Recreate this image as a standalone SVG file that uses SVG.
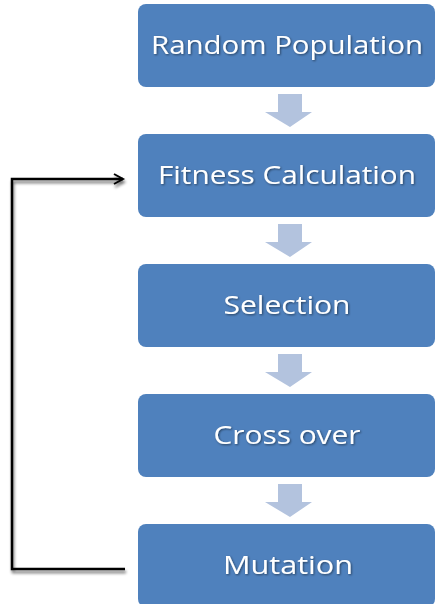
<svg xmlns="http://www.w3.org/2000/svg" width="435" height="604" viewBox="0 0 435 604">
<defs>
<filter id="sh" x="-10%" y="-10%" width="130%" height="130%"><feGaussianBlur in="SourceAlpha" stdDeviation="1.5"/><feOffset dx="1" dy="3"/><feComponentTransfer><feFuncA type="linear" slope="0.55"/></feComponentTransfer><feMerge><feMergeNode/><feMergeNode in="SourceGraphic"/></feMerge></filter>
<filter id="ts" x="-5%" y="-20%" width="110%" height="150%"><feGaussianBlur in="SourceAlpha" stdDeviation="0.8"/><feOffset dx="1" dy="1"/><feComponentTransfer><feFuncA type="linear" slope="0.5"/></feComponentTransfer><feMerge><feMergeNode/><feMergeNode in="SourceGraphic"/></feMerge></filter>
<marker id="ah" markerWidth="14" markerHeight="14" refX="11" refY="7" orient="auto" markerUnits="userSpaceOnUse"><path d="M2,2 L11,7 L2,12" fill="none" stroke="#000" stroke-width="2"/></marker>
</defs>
<style>
.box{fill:#4F81BD;}
.lbl{font-family:"Open Sans","Liberation Sans",sans-serif;font-size:26px;fill:#fff;text-anchor:middle;}
.blk{fill:#B3C3DE;}
.con{fill:none;stroke:#000;stroke-width:2.5;}
</style>
<g id="n1"><rect class="box" x="138" y="4" width="297" height="83" rx="8"/><text class="lbl" x="287" y="54" textLength="272" lengthAdjust="spacingAndGlyphs" filter="url(#ts)">Random Population</text></g>
<g id="n2"><rect class="box" x="138" y="134" width="297" height="83" rx="8"/><text class="lbl" x="287" y="184" textLength="258" lengthAdjust="spacingAndGlyphs" filter="url(#ts)">Fitness Calculation</text></g>
<g id="n3"><rect class="box" x="138" y="264" width="297" height="83" rx="8"/><text class="lbl" x="287" y="314" textLength="127" lengthAdjust="spacingAndGlyphs" filter="url(#ts)">Selection</text></g>
<g id="n4"><rect class="box" x="138" y="394" width="297" height="83" rx="8"/><text class="lbl" x="287" y="444" textLength="147" lengthAdjust="spacingAndGlyphs" filter="url(#ts)">Cross over</text></g>
<g id="n5"><rect class="box" x="138" y="524" width="297" height="83" rx="8"/><text class="lbl" x="288" y="574" textLength="130" lengthAdjust="spacingAndGlyphs" filter="url(#ts)">Mutation</text></g>
<g id="connectors">
<path class="blk" d="M278,94 H302 V112 H312 L290,127 L265,112 H278 Z"/>
<path class="blk" d="M278,224 H302 V242 H312 L290,257 L265,242 H278 Z"/>
<path class="blk" d="M278,354 H302 V372 H312 L290,387 L265,372 H278 Z"/>
<path class="blk" d="M278,484 H302 V502 H312 L290,517 L265,502 H278 Z"/>
<path class="con" d="M125,569 H12 V179 H123" marker-end="url(#ah)" filter="url(#sh)"/>
</g>
</svg>
